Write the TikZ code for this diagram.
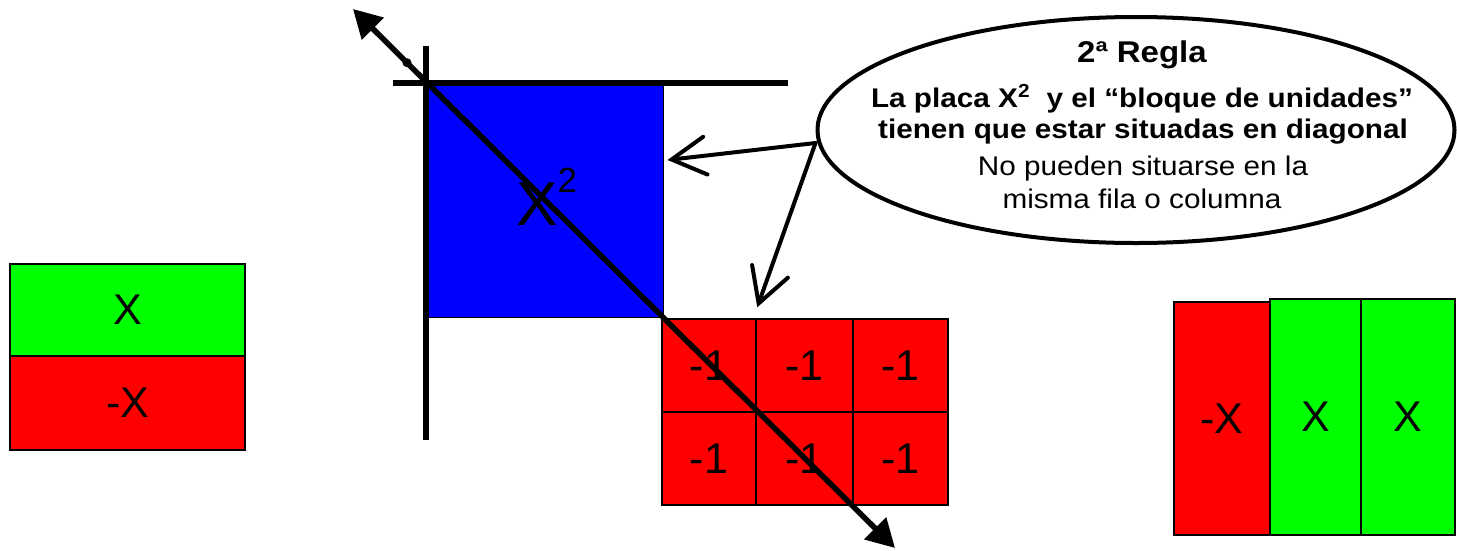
\documentclass[tikz,border=0pt]{standalone}
\usepackage{fontspec}
\setmainfont{Liberation Sans}
\newfontfamily\widesans[FakeStretch=1.1]{Liberation Sans}
\usetikzlibrary{arrows.meta,shapes.geometric}
\definecolor{pblue}{RGB}{0,0,255}
\definecolor{pred}{RGB}{255,0,0}
\definecolor{pgreen}{RGB}{0,255,0}
\begin{document}
\begin{tikzpicture}[x=1pt,y=-1pt,
  tile/.style={draw=black, line width=1.5pt, inner sep=0pt, font=\fontsize{43}{50}\selectfont},
  axisline/.style={line width=6pt},
  diagline/.style={line width=5.5pt, {Triangle[length=28pt,width=30pt]}-{Triangle[length=28pt,width=30pt]}},
  callout/.style={line width=4pt, line cap=round, -{Straight Barb[length=34pt,width=38pt,line cap=round]}},
  ruletext/.style={anchor=base, font=\widesans\fontsize{27}{30}\selectfont},
  rulebold/.style={ruletext, font=\widesans\bfseries\fontsize{27}{30}\selectfont}]
\useasboundingbox (0,0) rectangle (1457,550);

% left pair
\node[tile, fill=pgreen, minimum width=235pt, minimum height=92pt] (lgx) at (127.5,310) {X};
\node[tile, fill=pred, minimum width=235pt, minimum height=94pt] (lrx) at (127.5,403) {-X};

% blue square
\node[draw=black, line width=1pt, fill=pblue, minimum width=237pt, minimum height=234pt, inner sep=0pt] (sq) at (544.5,200) {};
\node[anchor=base west, inner sep=0pt, font=\fontsize{62}{70}\selectfont] (sqlabel) at (516,225)
  {X\raisebox{33pt}{\fontsize{35}{40}\selectfont 2}};

% red unit block
\node[tile, fill=pred, minimum width=94pt, minimum height=93pt] (u11) at (709,365.5) {-1};
\node[tile, fill=pred, minimum width=97pt, minimum height=93pt] (u12) at (804.5,365.5) {-1};
\node[tile, fill=pred, minimum width=95pt, minimum height=93pt] (u13) at (900.5,365.5) {-1};
\node[tile, fill=pred, minimum width=94pt, minimum height=93pt] (u21) at (709,458.5) {-1};
\node[tile, fill=pred, minimum width=97pt, minimum height=93pt] (u22) at (804.5,458.5) {-1};
\node[tile, fill=pred, minimum width=95pt, minimum height=93pt] (u23) at (900.5,458.5) {-1};

% right group
\node[tile, fill=pred, minimum width=96pt, minimum height=233pt] (rrx) at (1222,418.5) {-X};
\node[tile, fill=pgreen, minimum width=91pt, minimum height=236pt] (rg1) at (1315.5,417) {X};
\node[tile, fill=pgreen, minimum width=94pt, minimum height=236pt] (rg2) at (1408,417) {X};

% axes
\coordinate (hxA) at (393,83);
\coordinate (hxB) at (788,83);
\coordinate (vyA) at (426,46);
\coordinate (vyB) at (426,440);
\draw[axisline] (hxA) -- (hxB);
\draw[axisline] (vyA) -- (vyB);

% diagonal
\coordinate (dgA) at (353,9);
\coordinate (dgB) at (895,548);
\coordinate (dgDot) at (407,62.7);
\draw[diagline] (dgA) -- (dgB);
\fill (dgDot) circle (4.5pt);

% ellipse callout
\node[draw=black, ellipse, line width=4pt, minimum width=637pt, minimum height=226pt, inner sep=0pt] (ell) at (1136,130) {};
\node[rulebold, font=\widesans\bfseries\fontsize{30}{34}\selectfont] (t1) at (1142,62) {2ª Regla};
\node[rulebold] (t2) at (1142,107) {La placa X\textsuperscript{2}~ y el “bloque de unidades”};
\node[rulebold] (t3) at (1143,138) {tienen que estar situadas en diagonal};
\node[ruletext] (t4) at (1143,175) {No pueden situarse en la};
\node[ruletext] (t5) at (1142,208) {misma fila o columna};

\coordinate (src) at ([yshift=-13pt]ell.west);
\draw[callout] (src) -- ([xshift=4pt,yshift=40pt]sq.east);
\draw[callout] (src) -- ([xshift=2pt,yshift=11pt]u12.north west);
\end{tikzpicture}
\end{document}
